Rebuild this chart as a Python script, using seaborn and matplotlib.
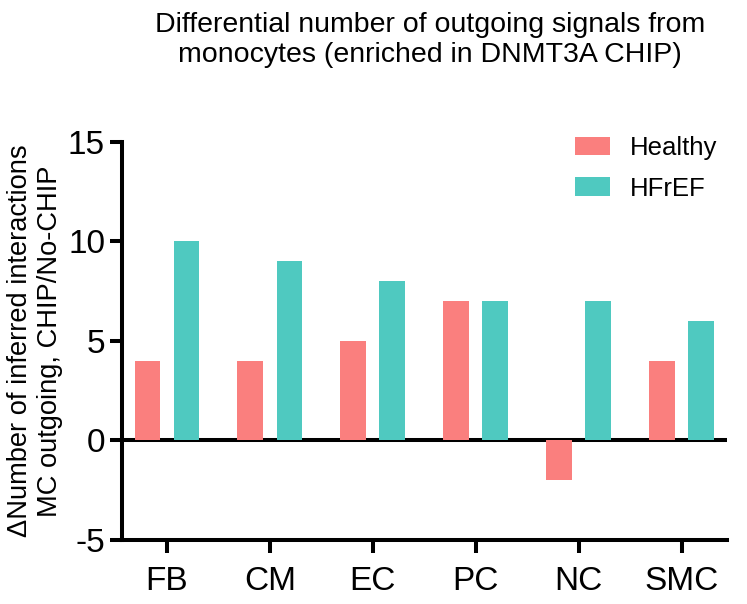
import pandas as pd
import matplotlib.pyplot as plt
import seaborn as sns

# values
cells = ["FB", "CM", "EC", "PC", "NC", "SMC"]
healthy = [4, 4, 5, 7, -2, 4]
hfref = [10, 9, 8, 7, 7, 6]
groups = ["Healthy", "HFrEF"]
colors = ["#FA7F7E", "#4FC9C0"]

df = pd.DataFrame({
    "cell": cells * 2,
    "value": healthy + hfref,
    "group": [groups[0]] * len(cells) + [groups[1]] * len(cells),
})

sns.set_style("ticks")
plt.rcParams['font.family'] = ['Liberation Sans', 'DejaVu Sans']
plt.rcParams['text.color'] = 'black'
plt.rcParams['axes.labelcolor'] = 'black'
plt.rcParams['axes.edgecolor'] = 'black'
plt.rcParams['xtick.color'] = 'black'
plt.rcParams['ytick.color'] = 'black'

fig = plt.figure(figsize=(7.47, 6.04), dpi=100)
ax = fig.add_axes([0.163, 0.106, 0.81, 0.659])

sns.barplot(data=df, x="cell", y="value", hue="group", palette=colors,
            width=0.76, gap=0.34, saturation=1, linewidth=0, ax=ax, zorder=2)

# zero line across the whole plot
ax.axhline(0, color="black", lw=2.9, zorder=1)

ax.set_xlim(-0.44, 5.44)
ax.set_ylim(-5, 15)
ax.set_yticks([-5, 0, 5, 10, 15])
ax.set_yticklabels(["-5", "0", "5", "10", "15"])

for s in ["top", "right"]:
    ax.spines[s].set_visible(False)
for s in ["left", "bottom"]:
    ax.spines[s].set_linewidth(2.9)
    ax.spines[s].set_color("black")
ax.tick_params(axis="both", width=2.9, length=9, labelsize=24, colors="black")
ax.tick_params(axis="x", pad=10)
ax.tick_params(axis="y", pad=3)

ax.set_xlabel("")
ax.set_ylabel("ΔNumber of inferred interactions\nMC outgoing, CHIP/No-CHIP",
              fontsize=19.6, linespacing=1.2)
ax.yaxis.set_label_coords(-0.097, 0.5)

fig.text(0.576, 1 - 40 / 604,
         "Differential number of outgoing signals from\nmonocytes (enriched in DNMT3A CHIP)",
         fontsize=20.5, ha="center", va="center", linespacing=1.25)

ax.legend(frameon=False, fontsize=18.5, loc="upper left",
          bbox_to_anchor=(575 / 747, 1 - 136 / 604), bbox_transform=fig.transFigure,
          borderaxespad=0, borderpad=0, handlelength=1.36, handleheight=0.75,
          labelspacing=0.65, handletextpad=0.78)

plt.savefig("out.png", dpi=100)
